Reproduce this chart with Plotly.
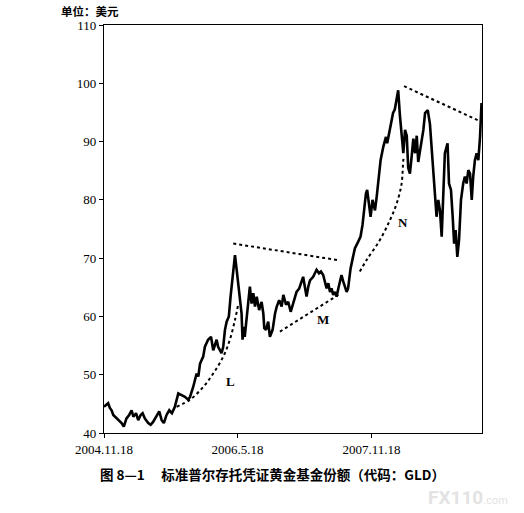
import plotly.graph_objects as go

# GLD price (USD)
dates = [
    "2004-11-18", "2004-11-26", "2004-12-05", "2004-12-12", "2004-12-19", "2004-12-26",
    "2005-01-02", "2005-01-15", "2005-01-29", "2005-02-07", "2005-02-18", "2005-03-01",
    "2005-03-11", "2005-03-18", "2005-03-29", "2005-04-07", "2005-04-17", "2005-04-25",
    "2005-05-04", "2005-05-18", "2005-05-28", "2005-06-07", "2005-06-24", "2005-07-02",
    "2005-07-12", "2005-07-21", "2005-08-01", "2005-08-12", "2005-08-23", "2005-09-04",
    "2005-09-18", "2005-10-02", "2005-10-15", "2005-10-29", "2005-11-05", "2005-11-18",
    "2005-12-02", "2005-12-09", "2005-12-16", "2005-12-29", "2006-01-05", "2006-01-18",
    "2006-01-30", "2006-02-08", "2006-02-22", "2006-02-28", "2006-03-14", "2006-03-21",
    "2006-03-28", "2006-04-04", "2006-04-13", "2006-04-20", "2006-04-28", "2006-05-08",
    "2006-05-15", "2006-05-21", "2006-05-28", "2006-06-04", "2006-06-08", "2006-06-13",
    "2006-06-17", "2006-06-24", "2006-07-01", "2006-07-08", "2006-07-15", "2006-07-22",
    "2006-07-29", "2006-08-05", "2006-08-15", "2006-08-25", "2006-09-01", "2006-09-05",
    "2006-09-12", "2006-09-21", "2006-09-28", "2006-10-09", "2006-10-19", "2006-10-26",
    "2006-11-05", "2006-11-15", "2006-11-22", "2006-12-03", "2006-12-12", "2006-12-22",
    "2007-01-01", "2007-01-15", "2007-01-26", "2007-02-05", "2007-02-11", "2007-02-18",
    "2007-02-25", "2007-03-04", "2007-03-11", "2007-03-24", "2007-04-07", "2007-04-17",
    "2007-04-25", "2007-05-04", "2007-05-11", "2007-05-18", "2007-05-25", "2007-06-01",
    "2007-06-07", "2007-06-14", "2007-06-21", "2007-06-28", "2007-07-05", "2007-07-18",
    "2007-07-25", "2007-08-01", "2007-08-08", "2007-08-14", "2007-08-24", "2007-09-02",
    "2007-09-11", "2007-09-24", "2007-10-04", "2007-10-12", "2007-10-18", "2007-10-26",
    "2007-10-31", "2007-11-08", "2007-11-14", "2007-11-22", "2007-12-02", "2007-12-09",
    "2007-12-15", "2007-12-25", "2008-01-05", "2008-01-16", "2008-01-21", "2008-01-29",
    "2008-02-08", "2008-02-14", "2008-02-21", "2008-02-28", "2008-03-06", "2008-03-13",
    "2008-03-20", "2008-03-27", "2008-04-03", "2008-04-10", "2008-04-16", "2008-04-23",
    "2008-04-30", "2008-05-07", "2008-05-14", "2008-05-21", "2008-05-27", "2008-06-03",
    "2008-06-10", "2008-06-17", "2008-06-24", "2008-07-05", "2008-07-14", "2008-07-21",
    "2008-07-27", "2008-08-03", "2008-08-10", "2008-08-17", "2008-08-24", "2008-08-31",
    "2008-09-06", "2008-09-13", "2008-09-20", "2008-09-24", "2008-09-30", "2008-10-08",
    "2008-10-15", "2008-10-21", "2008-10-27", "2008-11-03", "2008-11-10", "2008-11-18",
    "2008-11-27", "2008-12-04", "2008-12-11", "2008-12-18", "2008-12-25", "2009-01-01",
    "2009-01-07", "2009-01-14", "2009-01-21", "2009-01-28", "2009-02-04", "2009-02-10",
]
prices = [
    44.5, 44.8, 45.1, 44.3, 43.9, 43.1,
    42.8, 42.2, 41.7, 41.1, 42.5, 43.1,
    43.9, 42.8, 43.4, 42.2, 43.1, 43.4,
    42.5, 41.7, 41.4, 41.9, 43.1, 43.7,
    42.2, 41.7, 43.1, 43.9, 43.4, 44.5,
    46.8, 46.5, 46.2, 45.7, 46.2, 47.9,
    50.2, 49.7, 51.9, 53.1, 54.8, 56.0,
    56.5, 54.2, 56.0, 54.8, 53.7, 54.8,
    57.7, 59.1, 60.0, 63.4, 66.8, 70.5,
    68.0, 65.7, 63.4, 60.5, 56.0, 58.2,
    56.5, 59.4, 62.8, 65.1, 62.2, 64.0,
    61.7, 63.4, 61.1, 62.5, 60.5, 58.0,
    57.7, 59.1, 56.5, 57.7, 60.5, 61.7,
    62.8, 61.7, 63.7, 62.0, 62.5, 60.8,
    62.2, 64.2, 64.8, 66.2, 66.8, 65.1,
    63.4, 65.1, 66.2, 66.8, 68.0, 67.4,
    67.7, 67.1, 66.0, 64.8, 65.7, 64.2,
    64.8, 63.7, 64.2, 63.4, 64.8, 67.1,
    66.0, 65.1, 64.2, 64.8, 68.2, 70.0,
    71.7, 72.8, 73.7, 75.7, 78.5, 81.1,
    81.7, 78.8, 77.1, 80.0, 78.2, 80.5,
    83.4, 86.8, 89.1, 90.8, 89.7, 91.4,
    93.1, 94.9, 95.5, 97.0, 98.8, 94.5,
    90.5, 88.0, 92.0, 91.0, 85.5, 84.5,
    87.4, 90.5, 88.0, 91.0, 86.5, 88.5,
    89.7, 92.0, 94.9, 95.4, 93.0, 89.1,
    85.7, 81.7, 77.1, 80.0, 78.2, 73.7,
    81.7, 88.0, 89.1, 89.7, 82.8, 81.7,
    77.1, 72.5, 74.8, 70.2, 73.1, 80.0,
    82.8, 84.0, 82.8, 85.1, 84.5, 80.0,
    84.0, 86.8, 88.0, 86.8, 90.8, 96.6,
]

# dotted guide lines drawn on the chart
top1_dates = ["2006-05-01", "2007-07-12"]
top1_vals = [72.5, 69.6]
top2_dates = ["2008-03-30", "2009-02-04"]
top2_vals = [99.5, 93.5]
L_dates = ["2005-09-11", "2005-11-05", "2005-12-29", "2006-02-08", "2006-03-21",
           "2006-04-17", "2006-05-08", "2006-05-21"]
L_vals = [44.5, 45.7, 47.9, 50.2, 53.1, 56.0, 59.4, 62.0]
M_dates = ["2006-11-08", "2007-07-05"]
M_vals = [57.4, 63.7]
N_dates = ["2007-10-01", "2007-10-29", "2007-12-22", "2008-02-01", "2008-02-29",
           "2008-03-20", "2008-03-27", "2008-03-30"]
N_vals = [67.7, 69.7, 73.1, 76.5, 79.4, 82.8, 86.8, 87.4]

tick_dates = ["2004-11-18", "2006-05-18", "2007-11-18"]
tick_text = ["2004.11.18", "2006.5.18", "2007.11.18"]
y_ticks = [40, 50, 60, 70, 80, 90, 100, 110]

fig = go.Figure()
fig.add_trace(go.Scatter(x=dates, y=prices, mode="lines",
                         line=dict(color="black", width=2.6), showlegend=False))
for xs, ys in [(top1_dates, top1_vals), (top2_dates, top2_vals), (L_dates, L_vals),
               (M_dates, M_vals), (N_dates, N_vals)]:
    fig.add_trace(go.Scatter(x=xs, y=ys, mode="lines", line_shape="spline",
                             line=dict(color="black", width=2, dash="dot"),
                             showlegend=False))

serif = "Liberation Serif"
for txt, xd, yv in [("L", "2006-04-21", 48.8), ("M", "2007-05-04", 59.5), ("N", "2008-03-27", 76.1)]:
    fig.add_annotation(x=xd, y=yv, text="<b>" + txt + "</b>", showarrow=False,
                       font=dict(family=serif, size=13, color="black"))

fig.add_annotation(xref="paper", yref="paper", x=-0.119, y=1.034, xanchor="left", yanchor="middle",
                   text="<b>单位：美元</b>", showarrow=False,
                   font=dict(family="Noto Sans CJK SC", size=11.5, color="black"))
fig.add_annotation(xref="paper", yref="paper", x=-0.016, y=-0.10, xanchor="left", yanchor="middle",
                   text="<b>图 8—1　 标准普尔存托凭证黄金基金份额（代码：GLD）</b>", showarrow=False,
                   font=dict(family="Noto Sans CJK SC", size=13.5, color="black"))
fig.add_annotation(xref="paper", yref="paper", x=1.074, y=-0.157, xanchor="right", yanchor="middle",
                   text="<b>FX110</b><span style='font-size:11px'>.com</span>", showarrow=False,
                   font=dict(family="Roboto", size=19, color="#e3e3e3"))

fig.update_xaxes(type="date", range=["2004-11-18", "2009-02-12"],
                 tickvals=tick_dates, ticktext=tick_text,
                 showgrid=False, zeroline=False, showline=True, linecolor="black", linewidth=1.2,
                 mirror=True, ticks="outside", ticklen=4, tickcolor="black",
                 tickfont=dict(family=serif, size=13, color="black"))
fig.update_yaxes(range=[40, 110], tickvals=y_ticks,
                 showgrid=False, zeroline=False, showline=True, linecolor="black", linewidth=1.2,
                 mirror=True, ticks="outside", ticklen=4, tickcolor="black",
                 tickfont=dict(family=serif, size=13, color="black"))
fig.update_layout(width=524, height=513, plot_bgcolor="white", paper_bgcolor="white",
                  margin=dict(l=104, r=42, t=25, b=80))
fig.write_html("out.html", config={"displayModeBar": False},
               post_script="document.body.style.margin='0px';")
